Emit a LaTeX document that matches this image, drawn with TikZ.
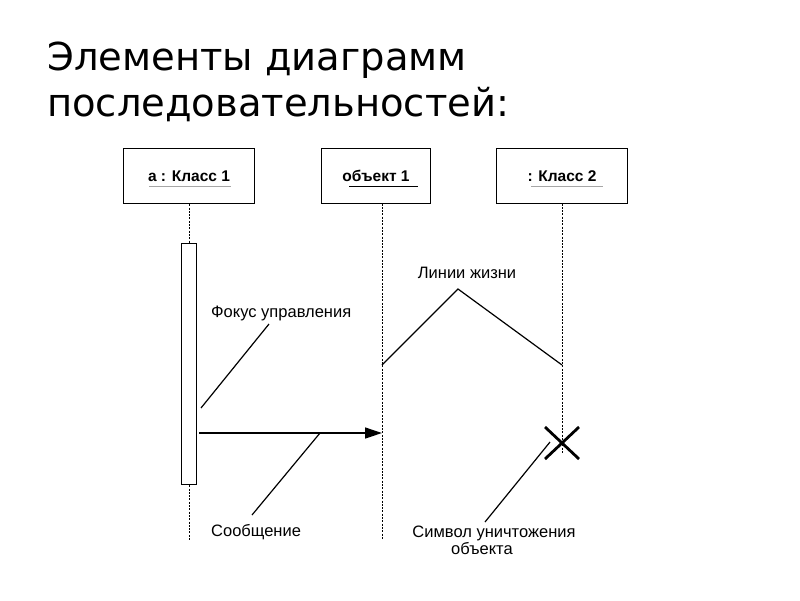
\documentclass[tikz,border=0pt]{standalone}
\usepackage{fontspec}
\setmainfont{Liberation Sans}
\newfontfamily\titlefont{DejaVu Sans}
\usetikzlibrary{arrows.meta}
\begin{document}
\begin{tikzpicture}[x=1pt,y=-1pt,
  objbox/.style={draw,line width=1.5pt,minimum width=131pt,minimum height=55pt,inner sep=0pt,font=\fontsize{15.5}{18}\selectfont\bfseries},
  lifeline/.style={draw,line width=1pt,dash pattern=on 2pt off 1.3pt},
  note/.style={font=\fontsize{16.5}{19}\selectfont,inner sep=0pt},
  pointer/.style={draw,line width=1.2pt},
  ul/.style={draw=black!35,line width=0.9pt}]
\useasboundingbox (0,0) rectangle (800,600);
% title
\node[anchor=base west,inner sep=0pt,font=\titlefont\fontsize{38.5}{46}\selectfont] (t1) at (47,70) {Элементы диаграмм};
\node[anchor=base west,inner sep=0pt,font=\titlefont\fontsize{38.5}{46}\selectfont] (t2) at (47,116) {последовательностей:};
% object boxes
\node[objbox] (o1) at (189,176) {a : Класс 1};
\node[objbox,minimum width=109pt] (o2) at (376,176) {объект 1};
\node[objbox] (o3) at (562,176) {: Класс 2};
\draw[ul] ([yshift=-10pt]o1.center) ++(-40,0) -- ++(82,0);
\draw[draw=black,line width=1pt] ([yshift=-10pt]o2.center) ++(-27,0) -- ++(69,0);
\draw[ul] ([yshift=-10pt]o3.center) ++(-31,0) -- ++(72,0);
% lifelines
\coordinate (l1end) at (189,540);
\coordinate (l2top) at (382,203.5);
\coordinate (l2end) at (382,540);
\coordinate (l3top) at (562,203.5);
\node[draw,line width=1.5pt,fill=white,minimum width=15pt,minimum height=241pt,inner sep=0pt] (act) at (189,364) {};
\draw[lifeline] (o1.south) -- (act.north);
\draw[lifeline] (act.south) -- (l1end);
\draw[lifeline] (l2top) -- (l2end);
% destruction
\coordinate (x) at (562,443);
\draw[lifeline] (l3top) -- ([yshift=-10pt]x);
\draw[line width=2.8pt] ([shift={(-17,-16)}]x) -- ([shift={(17,16)}]x);
\draw[line width=2.8pt] ([shift={(17,-16)}]x) -- ([shift={(-17,16)}]x);
% message
\coordinate (m1) at (199,433);
\coordinate (m2) at (382,433);
\draw[line width=1.3pt,-{Triangle[length=17pt,width=11pt]}] (m1) -- (m2);
% annotations
\node[note,anchor=base west] (fok) at (211,317) {Фокус управления};
\coordinate (fa) at (201,408);
\coordinate (fb) at (269,324);
\draw[pointer] (fa) -- (fb);
\node[note,anchor=base] (liv) at (467,278) {Линии жизни};
\coordinate (la) at (382,365);
\coordinate (lp) at (458,289);
\coordinate (lb) at (562,365);
\draw[pointer] (la) -- (lp) -- (lb);
\node[note,anchor=base west] (soo) at (211,536) {Сообщение};
\coordinate (sa) at (252,515);
\coordinate (sb) at (320,433);
\draw[pointer] (sa) -- (sb);
\node[note,anchor=base] (sym) at (494,537) {Символ уничтожения};
\node[note,anchor=base] (sym2) at (482,554) {объекта};
\coordinate (ya) at (485,522);
\coordinate (yb) at (550,442);
\draw[pointer] (ya) -- (yb);
\end{tikzpicture}
\end{document}
